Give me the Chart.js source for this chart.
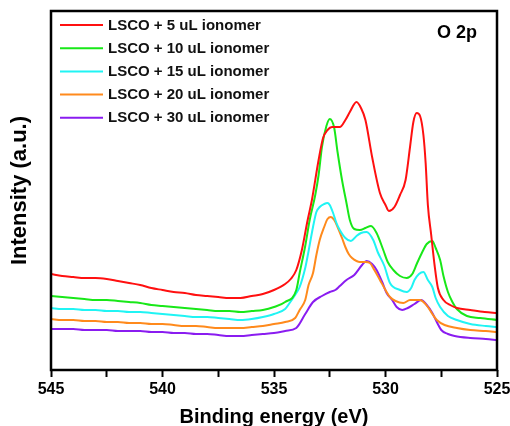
<!DOCTYPE html>
<html>
<head>
<meta charset="utf-8">
<script src="https://cdn.jsdelivr.net/npm/chart.js@4.4.1/dist/chart.umd.min.js"></script>
<style>
  html, body { margin: 0; padding: 0; background: #fff; }
  #c { display: block; }
</style>
</head>
<body>
<canvas id="c" width="510" height="426"></canvas>
<script>
// Binding energies shared by the flat background part of every scan (eV)
const baseE = [545, 544.5, 544, 543.5, 543, 542.5, 542, 541.5, 541, 540.5, 540,
  539.5, 539, 538.5, 538, 537.5, 537, 536.5, 536, 535.5, 535, 534.5];

// 5 uL
const e5 = baseE.concat([534.25, 534, 533.75, 533.5, 533.3, 533, 532.8, 532.6, 532.4, 532.05,
  531.8, 531.6, 531.3, 531.1, 530.9, 530.6, 530.25, 530, 529.85, 529.6,
  529.35, 529.1, 528.9, 528.75, 528.6, 528.45, 528.3, 528.2, 528.1, 527.95,
  527.8, 527.65, 527.4, 527.1, 526.8, 526.2, 525.55, 525]);
const i5 = [96, 94, 93, 92, 92, 91, 89, 87, 85, 82, 80, 78, 77, 75, 74, 73, 72, 72, 74, 76, 80, 86,
  91, 100, 120, 149, 170, 210, 232, 240, 243, 243,
  250, 258, 268, 262, 250, 213, 177, 165, 159, 163,
  175, 190, 223, 248, 257, 254, 235, 207, 165, 135,
  105, 82, 70, 65, 62, 60, 58, 57];

// 10 uL
const e10 = baseE.concat([534, 533.85, 533.6, 533.4, 533.15, 533, 532.85, 532.65, 532.5, 532.3,
  532.15, 531.95, 531.75, 531.6, 531.4, 531.15, 530.9, 530.65, 530.4, 530.1,
  529.9, 529.65, 529.35, 529.05, 528.8, 528.6, 528.35, 528.15, 527.9, 527.75,
  527.55, 527.4, 527.2, 527, 526.8, 526.35, 525.75, 525]);
const i10 = [74, 73, 72, 71, 70, 70, 69, 68, 67, 65, 64, 63, 62, 61, 60, 59, 59, 58, 59, 60, 63, 68,
  80, 97, 124, 150, 175, 195, 223, 244, 251, 242,
  218, 190, 167, 150, 141, 140, 142, 144, 137, 120,
  108, 100, 94, 92, 96, 106, 118, 126, 129, 122,
  110, 94, 78, 68, 61, 54, 52, 50];

// 15 uL
const e15 = baseE.concat([534.3, 534, 533.85, 533.6, 533.5, 533.25, 533.1, 532.95, 532.75, 532.6,
  532.5, 532.35, 532.2, 532.05, 531.8, 531.55, 531.3, 531.1, 530.85, 530.55,
  530.35, 530.05, 529.8, 529.35, 529.05, 528.85, 528.7, 528.5, 528.3, 528.1,
  527.9, 527.75, 527.55, 527.2, 526.8, 526.2, 525.5, 525]);
const i15 = [62, 61, 61, 60, 60, 59, 59, 58, 58, 57, 56, 55, 54, 53, 53, 52, 51, 50, 51, 53, 56, 61,
  67, 77, 83, 102, 113, 143, 158, 163, 166, 167,
  165, 157, 147, 140, 132, 129, 134, 137, 138, 130,
  118, 104, 87, 80, 78, 82, 90, 96, 98, 90,
  83, 72, 63, 54, 50, 46, 44, 43];

// 20 uL
const e20 = baseE.concat([534.05, 533.85, 533.6, 533.45, 533.25, 533.1, 532.95, 532.75, 532.6, 532.45,
  532.3, 532.15, 531.95, 531.8, 531.65, 531.5, 531.3, 531.15, 530.9, 530.7,
  530.5, 530.25, 530, 529.8, 529.55, 529.2, 528.9, 528.45, 528.3, 528.1,
  527.9, 527.7, 527.35, 526.8, 526.2, 525.5, 525]);
const i20 = [51, 50, 50, 49, 49, 48, 48, 47, 47, 46, 46, 45, 44, 44, 43, 42, 42, 42, 43, 44, 46, 48,
  52, 60, 70, 85, 97, 115, 130, 143, 151, 153,
  150, 143, 132, 123, 116, 112, 109, 108, 108, 107,
  100, 90, 80, 73, 69, 67, 70, 70, 68, 63,
  56, 50, 45, 42, 40, 39, 38];

// 30 uL
const e30 = baseE.concat([534, 533.6, 533.25, 532.85, 532.5, 532.25, 532.05, 531.75, 531.4, 531.05,
  530.85, 530.6, 530.4, 530.15, 529.95, 529.7, 529.5, 529.25, 529, 528.7,
  528.4, 528.15, 527.9, 527.7, 527.5, 527.2, 526.9, 526.2, 525.5, 525]);
const i30 = [41, 41, 41, 40, 40, 40, 39, 39, 39, 38, 38, 37, 37, 36, 36, 35, 34, 34, 35, 36, 37, 39,
  42, 56, 68, 74, 78, 80, 84, 90, 95, 105,
  109, 106, 100, 88, 77, 70, 63, 60, 62, 66,
  70, 65, 57, 48, 40, 36, 34, 32, 31, 30];

const labels = ['LSCO + 5 uL ionomer', 'LSCO + 10 uL ionomer', 'LSCO + 15 uL ionomer',
  'LSCO + 20 uL ionomer', 'LSCO + 30 uL ionomer'];
const colors = ['#ff1010', '#18e818', '#20f4f4', '#ff8a1c', '#8a1cf0'];
const energies = [e5, e10, e15, e20, e30];
const intensities = [i5, i10, i15, i20, i30];
const xTicks = [545, 540, 535, 530, 525];

const FONT = "'Liberation Sans', Arial, Helvetica, sans-serif";
Chart.defaults.font.family = FONT;
Chart.defaults.font.weight = 'bold';
Chart.defaults.color = '#000';

// frame round the plot, the inside legend and the "O 2p" tag
const decor = {
  id: 'decor',
  afterDatasetsDraw(chart) {
    const { ctx, chartArea: a } = chart;
    ctx.save();
    ctx.strokeStyle = '#000';
    ctx.lineWidth = 2.5;
    ctx.strokeRect(a.left, a.top, a.right - a.left, a.bottom - a.top);

    ctx.font = 'bold 15px ' + FONT;
    ctx.textBaseline = 'middle';
    chart.data.datasets.forEach((ds, i) => {
      const y = 25 + i * 23.2;
      ctx.strokeStyle = ds.borderColor;
      ctx.lineWidth = 2;
      ctx.beginPath();
      ctx.moveTo(60, y);
      ctx.lineTo(103, y);
      ctx.stroke();
      ctx.fillStyle = '#111';
      ctx.fillText(ds.label, 108, y + 0.5);
    });

    ctx.font = 'bold 18px ' + FONT;
    ctx.textBaseline = 'alphabetic';
    ctx.fillStyle = '#000';
    ctx.fillText('O 2p', 437, 38);
    ctx.restore();
  }
};

new Chart(document.getElementById('c'), {
  type: 'line',
  data: {
    datasets: labels.map((label, k) => ({
      label,
      data: energies[k].map((x, j) => ({ x, y: intensities[k][j] })),
      borderColor: colors[k],
      backgroundColor: colors[k],
      borderWidth: 2,
      pointRadius: 0,
      cubicInterpolationMode: 'monotone',
      fill: false
    }))
  },
  options: {
    responsive: false,
    animation: false,
    layout: { padding: { top: 11, right: 13, left: 0, bottom: 0 } },
    plugins: { legend: { display: false }, tooltip: { enabled: false } },
    scales: {
      x: {
        type: 'linear',
        reverse: true,
        min: 525,
        max: 545,
        afterFit(s) { s.height = 56; s.paddingLeft = 0; s.paddingRight = 0; },
        border: { display: false },
        grid: { drawOnChartArea: false, drawTicks: true, tickLength: 7, tickWidth: 2, tickColor: '#000' },
        ticks: {
          stepSize: 2.5,
          autoSkip: false,
          maxRotation: 0,
          padding: 3,
          font: { size: 16, weight: 'bold' },
          callback: v => xTicks.includes(v) ? String(v) : ''
        },
        title: {
          display: true,
          text: 'Binding energy (eV)',
          font: { size: 20, weight: 'bold', lineHeight: 0.9 },
          padding: { top: 0, bottom: 0 }
        }
      },
      y: {
        min: 0,
        max: 359,
        afterFit(s) { s.width = 51; },
        border: { display: false },
        grid: { display: false },
        ticks: { display: false },
        title: {
          display: true,
          text: 'Intensity (a.u.)',
          font: { size: 22, weight: 'bold', lineHeight: 1.2 },
          padding: { top: 7, bottom: 0 }
        }
      }
    }
  },
  plugins: [decor]
});
</script>
</body>
</html>
